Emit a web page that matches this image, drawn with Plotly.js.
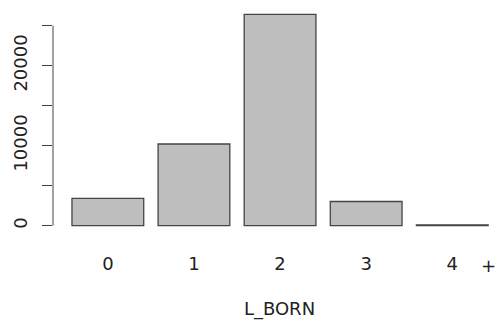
<!DOCTYPE html>
<html>
<head>
<meta charset="utf-8">
<script src="https://cdn.plot.ly/plotly-3.0.1.min.js"></script>
<style>
html,body{margin:0;padding:0;overflow:hidden;background:#fff;}
#chart{width:506px;height:323px;}
</style>
</head>
<body>
<div id="chart"></div>
<script>
var categories = ['0', '1', '2', '3', '4'];
var counts = [3425, 10210, 26425, 3020, 110];
var yTickVals = [0, 5000, 10000, 15000, 20000, 25000];
var yTickText = ['0', '', '10000', '', '20000', ''];
var xTitle = 'L_BORN';

var trace = {
  type: 'bar',
  x: categories,
  y: counts,
  marker: {color: '#bebebe', line: {color: '#444', width: 1.3}},
  hoverinfo: 'none'
};

var font = {family: 'DejaVu Sans, sans-serif', size: 18, color: '#222'};

var layout = {
  width: 506,
  height: 323,
  margin: {l: 53, r: 0, t: 6, b: 89},
  paper_bgcolor: '#fff',
  plot_bgcolor: '#fff',
  showlegend: false,
  bargap: 1/6,
  font: font,
  xaxis: {
    type: 'category',
    range: [-0.637, 4.624],
    showgrid: false,
    zeroline: false,
    showline: false,
    ticks: 'outside',
    ticklen: 13,
    tickcolor: 'rgba(0,0,0,0)',
    tickfont: font,
    title: {text: xTitle, font: font, standoff: 29}
  },
  yaxis: {
    range: [-1040, 27460],
    showgrid: false,
    zeroline: false,
    showline: false,
    ticks: 'outside',
    ticklen: 10,
    tickwidth: 1,
    tickcolor: '#444',
    tickvals: yTickVals,
    ticktext: yTickText,
    tickangle: -90,
    ticklabelstandoff: 8,
    tickfont: font
  },
  shapes: [{
    type: 'line', xref: 'paper', yref: 'y',
    x0: 0, x1: 0, y0: yTickVals[0], y1: yTickVals[yTickVals.length - 1],
    line: {color: '#444', width: 1}
  }],
  annotations: [{
    text: '+', xref: 'x', yref: 'paper', x: 4.419, y: -0.138,
    showarrow: false, font: font, xanchor: 'center', yanchor: 'middle'
  }]
};

Plotly.newPlot('chart', [trace], layout, {displayModeBar: false, staticPlot: true});
</script>
</body>
</html>
